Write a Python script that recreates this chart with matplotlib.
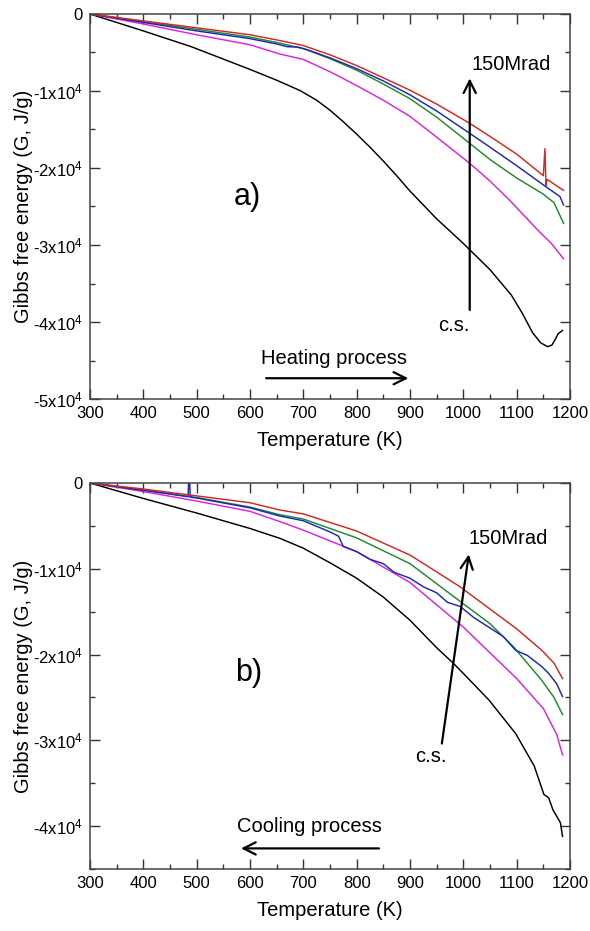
import matplotlib
matplotlib.use("Agg")
import matplotlib.pyplot as plt
from matplotlib.ticker import MultipleLocator, FuncFormatter

plt.rcParams["font.family"] = ["Liberation Sans", "DejaVu Sans"]
plt.rcParams["mathtext.default"] = "regular"

# ---- heating (panel a) ----
heat_cs_T = [300, 400, 490, 600, 650, 694, 725, 750, 775, 800, 825, 850, 875, 900, 925, 950, 1000, 1050, 1090, 1110, 1130, 1145, 1158, 1166, 1172, 1178, 1186]
heat_cs_G = [0, -2200, -4250, -7200, -8600, -9950, -11200, -12500, -14000, -15600, -17300, -19100, -21000, -23000, -24800, -26600, -29800, -33200, -36500, -38800, -41400, -42700, -43200, -43000, -42300, -41500, -41100]

heat_red_T = [300, 400, 500, 600, 656, 700, 750, 800, 844, 900, 950, 1012, 1050, 1100, 1150, 1153, 1155, 1157, 1160, 1181, 1188]
heat_red_G = [0, -900, -1800, -2700, -3450, -4100, -5300, -6700, -8100, -9900, -11700, -14200, -15900, -18200, -21000, -17500, -22300, -21500, -21600, -22600, -22900]

heat_blue_T = [300, 400, 500, 600, 650, 670, 690, 710, 750, 800, 850, 900, 950, 1012, 1050, 1100, 1150, 1181, 1188]
heat_blue_G = [0, -1100, -2200, -3200, -3900, -4250, -4300, -4700, -5700, -7100, -8700, -10500, -12600, -15500, -17300, -19700, -22200, -23700, -24800]

heat_green_T = [300, 400, 500, 600, 650, 700, 750, 800, 850, 900, 950, 1012, 1050, 1100, 1150, 1170, 1188]
heat_green_G = [0, -1000, -2000, -3000, -3700, -4500, -5800, -7300, -9100, -11000, -13400, -16800, -18900, -21300, -23400, -24500, -27200]

heat_mag_T = [300, 400, 500, 600, 656, 700, 750, 800, 850, 900, 950, 1012, 1050, 1087, 1140, 1165, 1188]
heat_mag_G = [0, -1300, -2700, -4000, -5200, -5900, -7500, -9300, -11200, -13300, -16000, -19400, -21700, -24200, -28100, -29800, -31800]

# ---- cooling (panel b) ----
cool_cs_T = [300, 350, 400, 450, 500, 550, 600, 656, 700, 750, 800, 850, 900, 950, 981, 1000, 1048, 1098, 1133, 1151, 1160, 1168, 1182, 1186]
cool_cs_G = [0, -900, -1800, -2650, -3500, -4400, -5300, -6450, -7600, -9300, -11100, -13300, -16000, -19200, -21000, -22200, -25300, -29200, -33000, -36300, -36700, -38100, -39600, -41200]

cool_red_T = [300, 400, 500, 600, 656, 700, 800, 900, 994, 1050, 1100, 1147, 1170, 1186]
cool_red_G = [0, -700, -1500, -2300, -3150, -3600, -5600, -8400, -12100, -14700, -17000, -19500, -21000, -22800]

cool_blue_T = [300, 400, 484, 486, 488, 500, 600, 656, 700, 750, 766, 775, 800, 825, 850, 870, 900, 925, 950, 970, 994, 1020, 1050, 1075, 1098, 1120, 1147, 1160, 1175, 1186]
cool_blue_G = [0, -850, -1600, 2000, -1650, -1750, -2900, -3850, -4400, -5700, -6200, -7400, -8000, -8900, -9400, -10400, -11100, -12100, -12800, -13900, -14400, -15700, -16900, -17900, -19500, -20100, -21400, -22200, -23400, -24900]

cool_green_T = [300, 400, 500, 600, 656, 700, 800, 900, 994, 1050, 1094, 1147, 1170, 1186]
cool_green_G = [0, -800, -1700, -2800, -3700, -4200, -6400, -9400, -13800, -16400, -19100, -23000, -25000, -27000]

cool_mag_T = [300, 400, 500, 600, 656, 700, 800, 900, 1000, 1050, 1100, 1150, 1175, 1186]
cool_mag_G = [0, -1000, -2100, -3300, -4500, -5500, -8000, -11600, -16800, -19800, -22800, -26300, -29300, -31700]

COLORS = {"cs": "black", "mag": "#e020e0", "green": "#1e8a2e", "blue": "#1c28b4", "red": "#d2281e"}
FS = 14.5


def _g_fmt(v, _pos):
    if abs(v) < 1e-6:
        return "0"
    return "%dx10$^{4}$" % round(v / 1e4)


def _style(ax, ymin):
    ax.set_xlim(300, 1200)
    ax.set_ylim(ymin, 0)
    ax.xaxis.set_major_locator(MultipleLocator(100))
    ax.xaxis.set_minor_locator(MultipleLocator(50))
    ax.yaxis.set_major_locator(MultipleLocator(10000))
    ax.yaxis.set_minor_locator(MultipleLocator(5000))
    ax.yaxis.set_major_formatter(FuncFormatter(_g_fmt))
    ax.tick_params(which="both", direction="in", top=True, right=True, labelsize=12, color="#333333", width=1.0)
    ax.tick_params(which="major", length=7)
    ax.tick_params(which="minor", length=3.5)
    ax.tick_params(axis="x", pad=5)
    ax.tick_params(axis="y", pad=5)
    for s in ax.spines.values():
        s.set_color("#444444")
        s.set_linewidth(1.1)
    ax.set_xlabel("Temperature (K)", fontsize=FS, labelpad=7)
    ax.set_ylabel("Gibbs free energy (G, J/g)", fontsize=FS, labelpad=0)


fig = plt.figure(figsize=(5.9, 9.31), dpi=100)
ax1 = fig.add_axes([0.1525, 0.5714, 0.8136, 0.4136])
ax2 = fig.add_axes([0.1525, 0.0666, 0.8136, 0.4146])

lw = 1.05
for T, G, c in [(heat_cs_T, heat_cs_G, "cs"), (heat_mag_T, heat_mag_G, "mag"),
                (heat_green_T, heat_green_G, "green"), (heat_blue_T, heat_blue_G, "blue"),
                (heat_red_T, heat_red_G, "red")]:
    ax1.plot(T, G, color=COLORS[c], lw=lw)
_style(ax1, -50000)

arrow = dict(arrowstyle="->", lw=1.6, color="black", mutation_scale=22)

ax1.text(596, -23800, "a)", fontsize=22, ha="center", va="center")
ax1.annotate("", xy=(1012, -8000), xytext=(1012, -38800), arrowprops=arrow)
ax1.text(1015, -6500, "150Mrad", fontsize=FS, ha="left", va="center")
ax1.text(983, -40400, "c.s.", fontsize=FS, ha="center", va="center")
ax1.text(757, -44700, "Heating process", fontsize=FS, ha="center", va="center")
ax1.annotate("", xy=(902, -47300), xytext=(625, -47300), arrowprops=arrow)

for T, G, c in [(cool_cs_T, cool_cs_G, "cs"), (cool_mag_T, cool_mag_G, "mag"),
                (cool_green_T, cool_green_G, "green"), (cool_blue_T, cool_blue_G, "blue"),
                (cool_red_T, cool_red_G, "red")]:
    ax2.plot(T, G, color=COLORS[c], lw=lw)
_style(ax2, -45000)

ax2.text(597, -22100, "b)", fontsize=22, ha="center", va="center")
ax2.annotate("", xy=(1011, -8000), xytext=(959, -30700), arrowprops=arrow)
ax2.text(1009, -6500, "150Mrad", fontsize=FS, ha="left", va="center")
ax2.text(939, -31900, "c.s.", fontsize=FS, ha="center", va="center")
ax2.text(712, -40000, "Cooling process", fontsize=FS, ha="center", va="center")
ax2.annotate("", xy=(578, -42600), xytext=(847, -42600), arrowprops=arrow)

fig.savefig("out.png", dpi=100)
